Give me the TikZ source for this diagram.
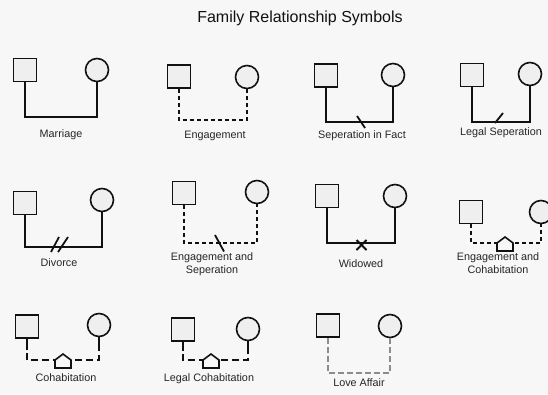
\documentclass[tikz,border=0pt]{standalone}
\usepackage{fontspec}
\setmainfont{Liberation Sans}
\usepackage{xcolor}
\usepackage{tikz}
\definecolor{bg}{HTML}{F7F7F7}
\definecolor{ink}{HTML}{111111}
\definecolor{fillp}{HTML}{EFEFEF}
\definecolor{textc}{HTML}{262626}
\definecolor{affair}{HTML}{8C8C8C}
\tikzset{
  male/.style={rectangle, draw=ink, fill=fillp, line width=1.6pt, minimum size=23pt, inner sep=0pt},
  female/.style={circle, draw=ink, fill=fillp, line width=1.6pt, minimum size=23pt, inner sep=0pt},
  rel/.style={line width=2pt, draw=ink},
  relE/.style={rel, dash pattern=on 4pt off 3pt},
  relC/.style={rel, dash pattern=on 7pt off 4pt, dash phase=8pt},
  relL/.style={line width=2pt, draw=affair, dash pattern=on 6pt off 3pt},
  cut/.style={line width=1.8pt, draw=ink},
  lab/.style={text=textc, font=\fontsize{10.8}{12.8}\selectfont, align=center},
  house/.pic={\draw[line width=1.6pt, draw=ink, fill=bg] (-8,8) -- (-8,0) -- (0,-6) -- (8,0) -- (8,8) -- cycle;}
}

\begin{document}
\begin{tikzpicture}[x=1pt, y=-1pt]
  \fill[bg] (0,0) rectangle (548,394);
  \useasboundingbox (0,0) rectangle (548,394);

  \node[text=ink, font=\fontsize{16}{19}\selectfont] (title) at (300,18) {Family Relationship Symbols};

  % row 1
  \node[male] (m1) at (25,70) {};
  \node[female] (f1) at (97,70) {};
  \coordinate (b1) at (61,117);
  \draw[rel] (m1.south) |- (b1) -| (f1.south);
  \node[lab] (l1) at (61,135) {Marriage};

  \node[male] (m2) at (179,76.5) {};
  \node[female] (f2) at (247,77) {};
  \coordinate (b2) at (213,120);
  \draw[relE] (m2.south) |- (b2) -| (f2.south);
  \node[lab] (l2) at (215,136) {Engagement};

  \node[male] (m3) at (326,75.5) {};
  \node[female] (f3) at (393,75) {};
  \coordinate (b3) at (359,122);
  \draw[rel] (m3.south) |- (b3) -| (f3.south);
  \draw[cut] ([shift={(-2,-6)}]b3) -- ([shift={(6,6)}]b3);
  \node[lab] (l3) at (362,136) {Seperation in Fact};

  \node[male] (m4) at (472,75) {};
  \node[female] (f4) at (530,74) {};
  \coordinate (b4) at (501,122);
  \draw[rel] (m4.south) |- (b4) -| (f4.south);
  \draw[cut] ([shift={(-6,1)}]b4) -- ([shift={(2,-9)}]b4);
  \node[lab] (l4) at (501,133) {Legal Seperation};

  % row 2
  \node[male] (m5) at (25,203) {};
  \node[female] (f5) at (102,200) {};
  \coordinate (b5) at (63.5,247);
  \draw[rel] (m5.south) |- (b5) -| (f5.south);
  \draw[cut] ([shift={(-12.5,5)}]b5) -- ([shift={(-4.5,-10)}]b5);
  \draw[cut] ([shift={(-5.5,5)}]b5) -- ([shift={(4.5,-10)}]b5);
  \node[lab] (l5) at (59,263) {Divorce};

  \node[male] (m6) at (184,193) {};
  \node[female] (f6) at (257,192) {};
  \coordinate (b6) at (220,243);
  \draw[relE] (m6.south) |- (b6) -| (f6.south);
  \draw[cut] ([shift={(-5,-8)}]b6) -- ([shift={(4,8.5)}]b6);
  \node[lab] (l6) at (212,264) {Engagement and\\Seperation};

  \node[male] (m7) at (327,196) {};
  \node[female] (f7) at (395,196) {};
  \coordinate (b7) at (361.5,243);
  \draw[rel] (m7.south) |- (b7) -| (f7.south);
  \draw[cut] ([shift={(-5,-3)}]b7) -- ([shift={(5,7)}]b7);
  \draw[cut] ([shift={(-5,7)}]b7) -- ([shift={(5,-3)}]b7);
  \node[lab] (l7) at (361,264) {Widowed};

  \node[male] (m8) at (471,212) {};
  \node[female] (f8) at (541,212) {};
  \coordinate (b8) at (505,243);
  \draw[relE] (m8.south) |- (b8) -| (f8.south);
  \pic at (b8) {house};
  \node[lab] (l8) at (498,263.5) {Engagement and\\Cohabitation};

  % row 3
  \node[male] (m9) at (27,326.5) {};
  \node[female] (f9) at (99,325) {};
  \coordinate (b9) at (63,360);
  \draw[rel] (m9.south) -- ++(0,11) coordinate (m9c);
  \draw[rel] (f9.south) -- ++(0,11) coordinate (f9c);
  \draw[relC] (m9c) |- (b9) -| (f9c);
  \pic at (b9) {house};
  \node[lab] (l9) at (66,378) {Cohabitation};

  \node[male] (m10) at (183,329.5) {};
  \node[female] (f10) at (248,329) {};
  \coordinate (b10) at (211,360);
  \draw[rel] (m10.south) -- ++(0,9) coordinate (m10c);
  \draw[rel] (f10.south) -- ++(0,9) coordinate (f10c);
  \draw[relC] (m10c) |- (b10) -| (f10c);
  \pic at (b10) {house};
  \node[lab] (l10) at (209,379) {Legal Cohabitation};

  \node[male] (m11) at (328,325.5) {};
  \node[female] (f11) at (390,326) {};
  \coordinate (b11) at (359,373);
  \draw[relL] (m11.south) |- (b11) -| (f11.south);
  \node[lab] (l11) at (359,383) {Love Affair};
\end{tikzpicture}
\end{document}
